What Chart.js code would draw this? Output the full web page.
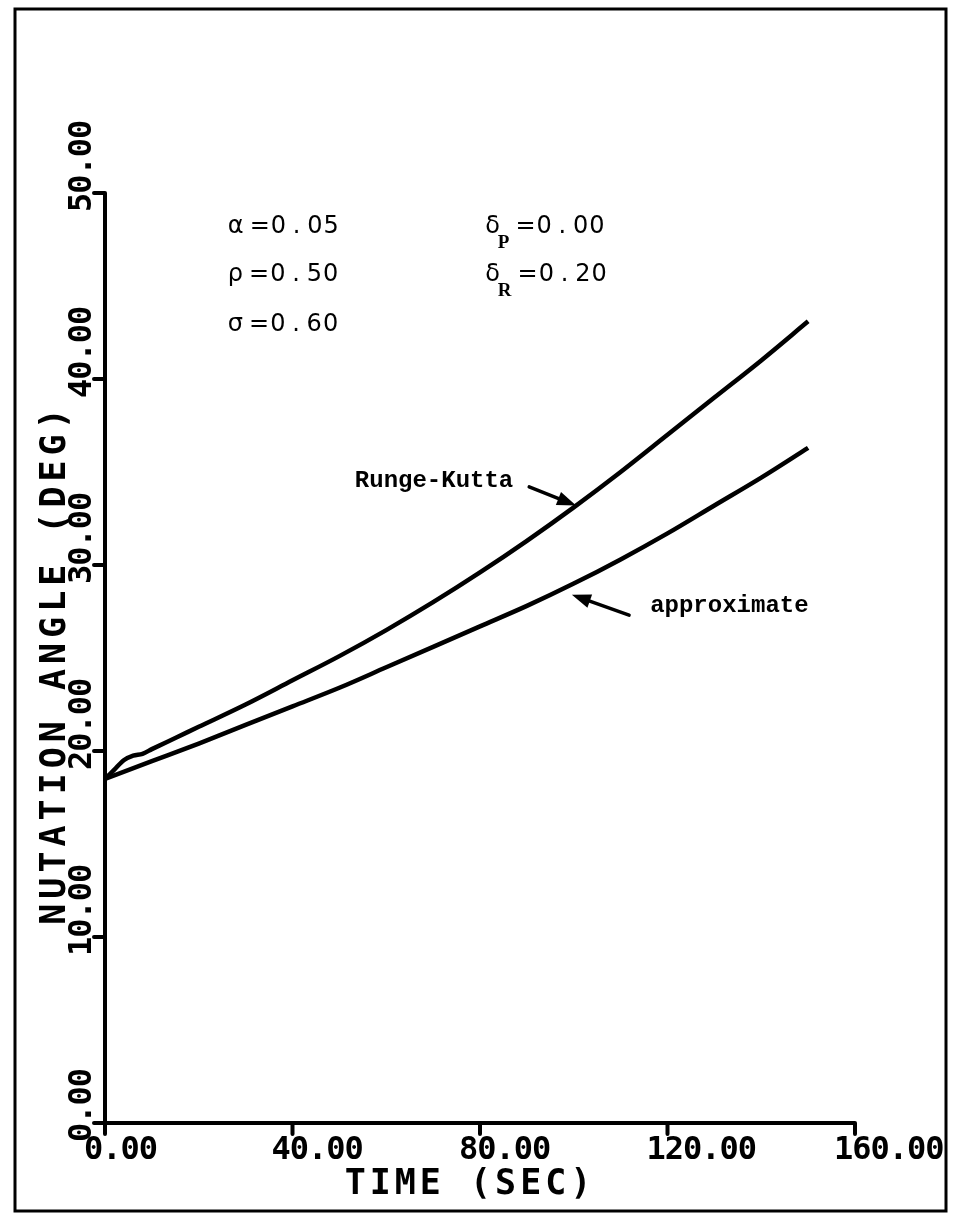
<!DOCTYPE html>
<html>
<head>
<meta charset="utf-8">
<script src="https://cdn.jsdelivr.net/npm/chart.js@4.4.0/dist/chart.umd.min.js"></script>
<style>
  html, body { margin: 0; padding: 0; background: #fff; }
  #wrap { width: 954px; height: 1215px; }
</style>
</head>
<body>
<div id="wrap"><canvas id="nutation"></canvas></div>
<script>
// values
const rkTime = [0, 2, 4, 6, 8, 10, 15, 20, 30, 40, 50, 60, 70, 80, 90, 100, 110, 120, 130, 140, 150];
const rkAngle = [18.5, 19.0, 19.5, 19.75, 19.85, 20.1, 20.7, 21.3, 22.5, 23.8, 25.1, 26.5, 28.0, 29.6, 31.3, 33.1, 35.0, 37.0, 39.0, 41.0, 43.1];
const apTime = [0, 10, 20, 30, 40, 50, 60, 70, 80, 90, 100, 110, 120, 130, 140, 150];
const apAngle = [18.5, 19.45, 20.4, 21.4, 22.4, 23.4, 24.5, 25.6, 26.7, 27.8, 29.0, 30.3, 31.7, 33.2, 34.7, 36.3];

const xTicks = [0, 40, 80, 120, 160];
const xTickLabels = ['0.00', '40.00', '80.00', '120.00', '160.00'];
const yTicks = [0, 10, 20, 30, 40, 50];
const yTickLabels = ['0.00', '10.00', '20.00', '30.00', '40.00', '50.00'];

const xTitle = 'TIME (SEC)';
const yTitle = 'NUTATION ANGLE (DEG)';

// parameter block: [symbol, subscript, value text]
const paramsLeft = [['\u03b1', '', '=0\u2009.\u200905'], ['\u03c1', '', '=0\u2009.\u200950'], ['\u03c3', '', '=0\u2009.\u200960']];
const paramsRight = [['\u03b4', 'P', '=0\u2009.\u200900'], ['\u03b4', 'R', '=0\u2009.\u200920']];

const toPoints = (xs, ys) => xs.map((x, i) => ({ x, y: ys[i] }));

const plotterLayer = {
  id: 'plotterLayer',
  afterDraw(chart) {
    const { ctx } = chart;
    const xs = chart.scales.x;
    const ys = chart.scales.y;
    const px = (v) => xs.getPixelForValue(v);
    const py = (v) => ys.getPixelForValue(v);
    ctx.save();
    ctx.strokeStyle = '#000';
    ctx.fillStyle = '#000';
    ctx.lineCap = 'round';

    // outer frame
    ctx.lineWidth = 3;
    ctx.strokeRect(15, 9, 931, 1202);

    // axes
    ctx.lineWidth = 4;
    ctx.beginPath();
    ctx.moveTo(px(0), py(50));
    ctx.lineTo(px(0), py(0));
    ctx.lineTo(px(160), py(0));
    yTicks.forEach((v) => {
      ctx.moveTo(px(0) - 11, py(v));
      ctx.lineTo(px(0), py(v));
    });
    xTicks.forEach((v) => {
      ctx.moveTo(px(v), py(0));
      ctx.lineTo(px(v), py(0) + 11);
    });
    ctx.stroke();

    // tick labels
    ctx.font = 'bold 32px "DejaVu Sans Mono"';
    ctx.letterSpacing = '-1px';
    ctx.textBaseline = 'middle';
    ctx.textAlign = 'left';
    xTicks.forEach((v, i) => {
      ctx.fillText(xTickLabels[i], px(v) - 21, py(0) + 28);
    });
    yTicks.forEach((v, i) => {
      ctx.save();
      ctx.translate(83, py(v) + 19);
      ctx.rotate(-Math.PI / 2);
      ctx.fillText(yTickLabels[i], 0, 0);
      ctx.restore();
    });

    // axis titles
    ctx.font = 'bold 35px "DejaVu Sans Mono"';
    ctx.textAlign = 'center';
    ctx.letterSpacing = '4px';
    ctx.fillText(xTitle, 470, 1185);
    ctx.letterSpacing = '5px';
    ctx.save();
    ctx.translate(56, 664);
    ctx.rotate(-Math.PI / 2);
    ctx.fillText(yTitle, 0, 0);
    ctx.restore();

    // parameter block
    ctx.textAlign = 'left';
    ctx.textBaseline = 'alphabetic';
    const drawParam = (row, t, val) => {
      let x = px(t);
      const y = py(val);
      ctx.font = '24px "DejaVu Sans"';
      ctx.letterSpacing = '0px';
      ctx.fillText(row[0], x, y);
      x += ctx.measureText(row[0]).width;
      if (row[1]) {
        ctx.font = 'bold 19px "Liberation Serif"';
        ctx.fillText(row[1], x - 2, y + 15);
        x += ctx.measureText(row[1]).width - 2;
      }
      ctx.font = '24px "DejaVu Sans"';
      ctx.letterSpacing = '1px';
      ctx.fillText(row[2], x + 6, y);
    };
    paramsLeft.forEach((row, i) => drawParam(row, 26.2, [47.85, 45.27, 42.6][i]));
    paramsRight.forEach((row, i) => drawParam(row, 81.1, [47.85, 45.27][i]));

    // curve labels with arrows
    ctx.font = 'bold 24px "Liberation Mono"';
    ctx.letterSpacing = '0px';
    ctx.fillText('Runge-Kutta', px(53.3), py(34.2));
    ctx.fillText('approximate', px(116.3), py(27.5));

    const arrow = (x0, y0, x1, y1) => {
      const a = Math.atan2(y1 - y0, x1 - x0);
      ctx.lineWidth = 3.5;
      ctx.beginPath();
      ctx.moveTo(x0, y0);
      ctx.lineTo(x1 - 10 * Math.cos(a), y1 - 10 * Math.sin(a));
      ctx.stroke();
      ctx.beginPath();
      ctx.moveTo(x1, y1);
      ctx.lineTo(x1 - 19 * Math.cos(a) + 7 * Math.sin(a), y1 - 19 * Math.sin(a) - 7 * Math.cos(a));
      ctx.lineTo(x1 - 19 * Math.cos(a) - 7 * Math.sin(a), y1 - 19 * Math.sin(a) + 7 * Math.cos(a));
      ctx.closePath();
      ctx.fill();
    };
    arrow(px(90.5), py(34.2), px(100.5), py(33.2));
    arrow(px(111.8), py(27.3), px(99.6), py(28.4));

    ctx.restore();
  },
};

new Chart(document.getElementById('nutation'), {
  type: 'scatter',
  data: {
    datasets: [
      {
        label: 'Runge-Kutta',
        data: toPoints(rkTime, rkAngle),
        showLine: true,
        borderColor: '#000',
        borderWidth: 4.5,
        pointRadius: 0,
        cubicInterpolationMode: 'monotone',
      },
      {
        label: 'approximate',
        data: toPoints(apTime, apAngle),
        showLine: true,
        borderColor: '#000',
        borderWidth: 4.5,
        pointRadius: 0,
        cubicInterpolationMode: 'monotone',
      },
    ],
  },
  options: {
    responsive: true,
    maintainAspectRatio: false,
    animation: false,
    devicePixelRatio: 1,
    layout: { padding: { left: 105, right: 99, top: 193, bottom: 92 } },
    plugins: { legend: { display: false }, tooltip: { enabled: false } },
    scales: {
      x: {
        type: 'linear',
        min: 0,
        max: 160,
        ticks: { display: false },
        grid: { display: false },
        border: { display: false },
        afterFit: (s) => { s.height = 0; },
      },
      y: {
        type: 'linear',
        min: 0,
        max: 50,
        ticks: { display: false },
        grid: { display: false },
        border: { display: false },
        afterFit: (s) => { s.width = 0; },
      },
    },
  },
  plugins: [plotterLayer],
});
</script>
</body>
</html>
